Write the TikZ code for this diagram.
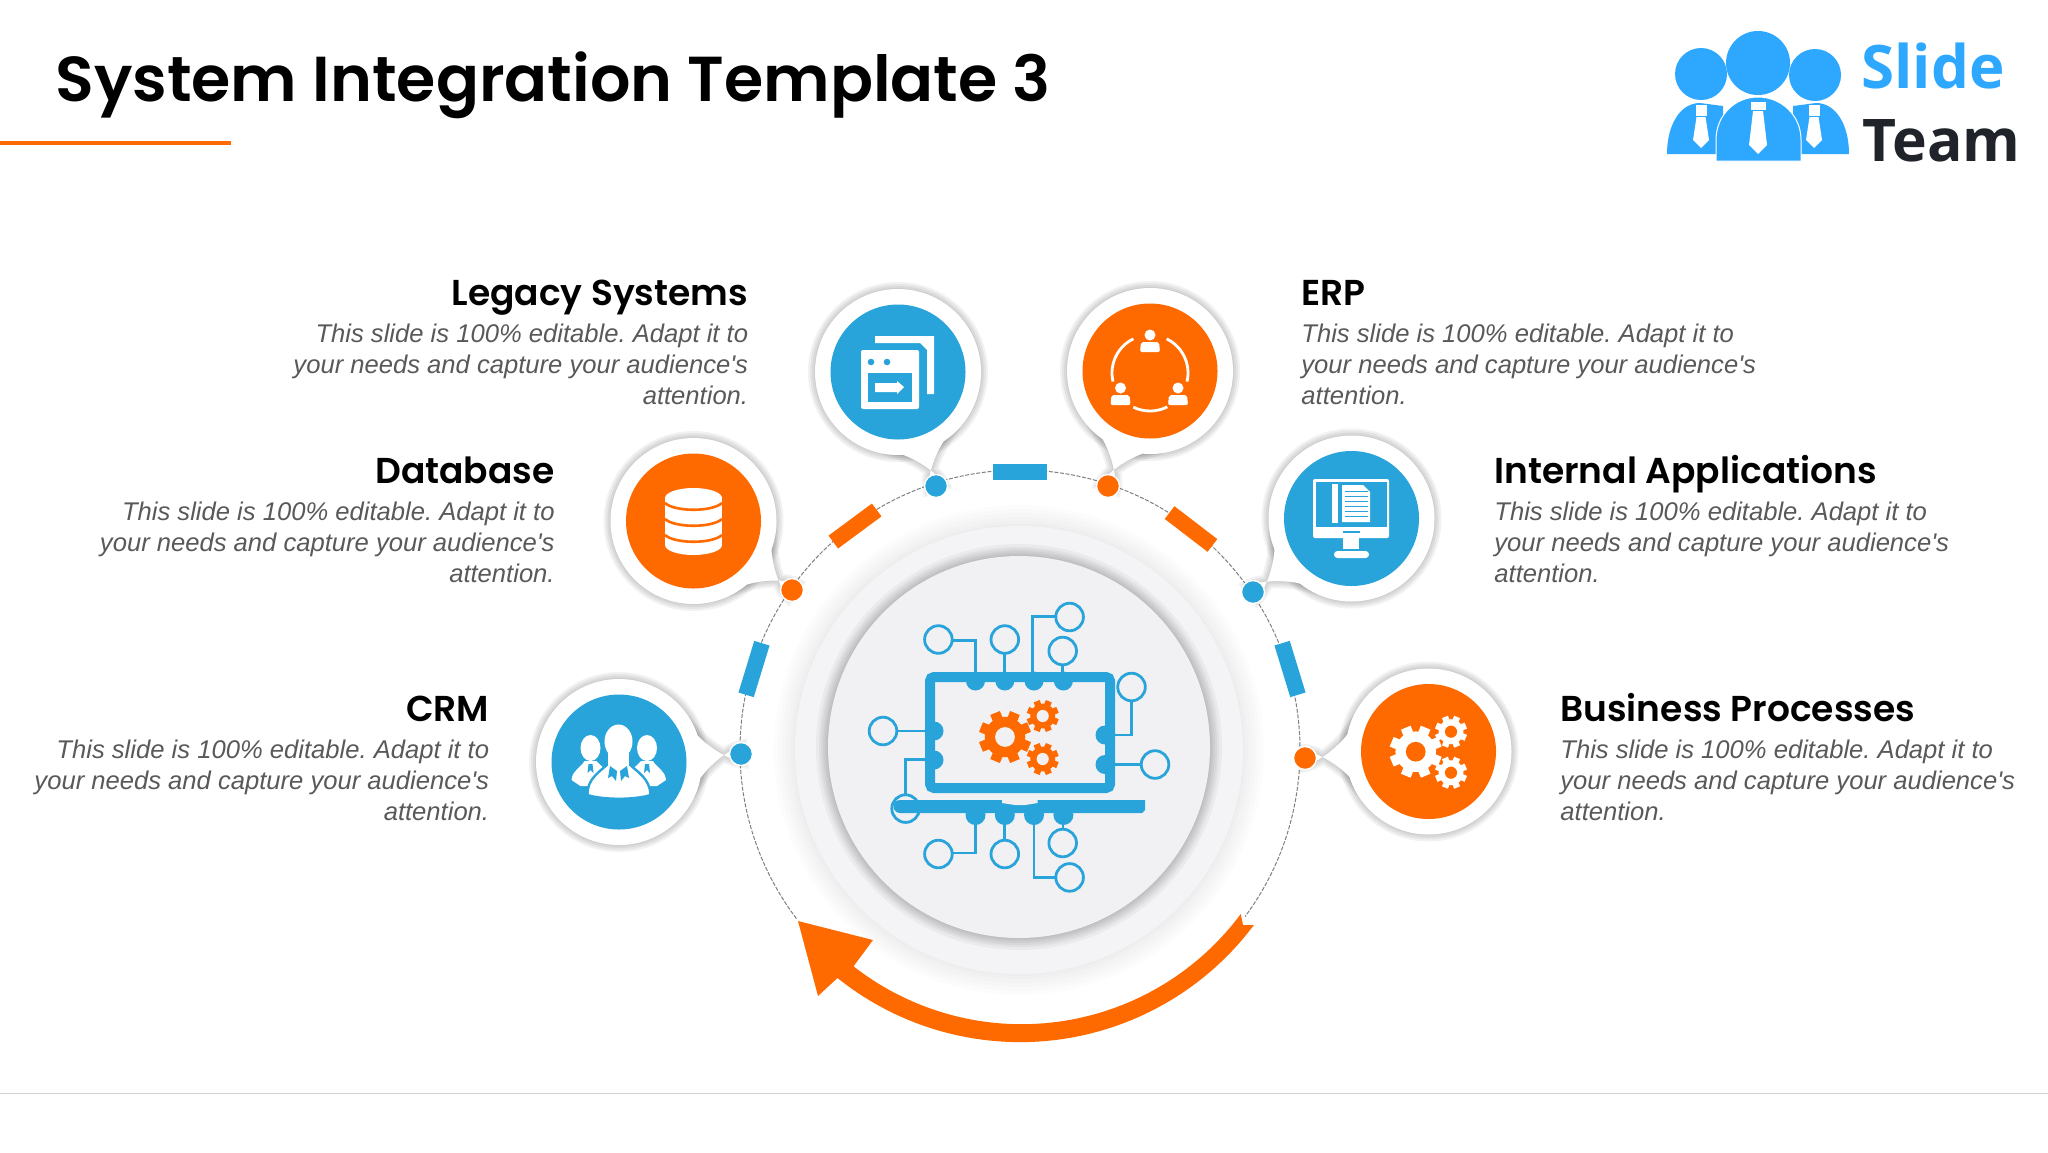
\documentclass[tikz,border=0pt]{standalone}
\usepackage{fontspec}
\usepackage{xcolor}
\usetikzlibrary{calc,positioning}
\setmainfont{Liberation Sans}
\newfontfamily\headfont{Poppins SemiBold}
\newfontfamily\logofont{Open Sans}
\definecolor{blueicon}{HTML}{29A4DA}
\definecolor{orangeicon}{HTML}{FF6A00}
\definecolor{discgray}{HTML}{F1F1F3}
\definecolor{ringgray}{HTML}{F4F4F6}
\definecolor{bodygray}{HTML}{595959}
\definecolor{logoblue}{HTML}{2EA8FF}
\definecolor{logodark}{HTML}{20242A}
\newcommand{\bubblepath}[2]{($(#1)!41.5pt!15:(#2)$) .. controls ($(#1)!44.5pt!7:(#2)$) and ($(#2)!7pt!24:(#1)$) .. ($(#2)!3.5pt!90:(#1)$) -- ($(#2)!3.5pt!-90:(#1)$) .. controls ($(#2)!7pt!-24:(#1)$) and ($(#1)!44.5pt!-7:(#2)$) .. ($(#1)!41.5pt!-15:(#2)$) -- cycle}
\newcommand{\gearicon}[5]{%
        \foreach \a in {0,45,...,315} \draw[#4, line width=#3*0.2pt] (#1,#2) -- ++(\a+22.5:#3);
        \fill[#4] (#1,#2) circle (#3*0.78);
        \fill[#5] (#1,#2) circle (#3*0.38);
}
\newcommand{\blurb}{This slide is 100\% editable. Adapt it to\\your needs and capture your audience\textquotesingle s\\attention.}
\tikzset{
        badge/.style={circle, minimum size=67.5pt, inner sep=0pt},
        pindot/.style={circle, minimum size=11.5pt, inner sep=0pt, draw=white, line width=0.7pt},
        ringbar/.style={rectangle, minimum width=27pt, minimum height=8pt, inner sep=0pt},
        headlabel/.style={inner sep=0pt, text depth=3pt, font=\headfont\fontsize{18}{22}\selectfont},
        bodylabel/.style={inner sep=0pt, text=bodygray, font=\itshape\fontsize{12.8}{15.5}\selectfont\frenchspacing},
        chipline/.style={blueicon, line width=1.4pt},
        chipdot/.style={blueicon, line width=1.4pt, fill=discgray},
        softline/.style={black, opacity=0.05},
}
\begin{document}
\begin{tikzpicture}[x=0.5pt, y=-0.5pt]
        \useasboundingbox (0,0) rectangle (2048,1152);
        \fill[white] (0,0) rectangle (2048,1152);
        \coordinate (hub) at (1020,750);
        \coordinate (disc) at (1019,747);
        \coordinate (legacyc) at (898,372);
        \coordinate (legacyp) at (936,486);
        \coordinate (erpc) at (1150,371);
        \coordinate (erpp) at (1108,486);
        \coordinate (databasec) at (693.5,521);
        \coordinate (databasep) at (792,590);
        \coordinate (internalc) at (1351.5,518.5);
        \coordinate (internalp) at (1253,592);
        \coordinate (crmc) at (619,762);
        \coordinate (crmp) at (741,754);
        \coordinate (businessc) at (1428.5,751.5);
        \coordinate (businessp) at (1305,758);
        \node[anchor=base west, inner sep=0pt, font=\headfont\fontsize{31.75}{38}\selectfont] (title) at (55,101) {System Integration Template 3};
        \draw[orangeicon, line width=2pt] (0,143) -- (231,143);
        \draw[gray!35, line width=0.5pt] (0,1093) -- (2048,1093);
        \draw[gray, line width=0.5pt, dashed, dash pattern=on 2pt off 0.8pt] (hub) ++(143:280) arc (143:396.5:280);
        \foreach \w in {21,17,13,9,5,2} \draw[softline, opacity=0.012, line width=\w pt] (1019,750) circle (224);
        \fill[ringgray] (1019,750) circle (224);
        \foreach \w in {12,9,7,5,3,1} \draw[softline, line width=\w pt, opacity=0.04] (disc) circle (191);
        \fill[discgray] (disc) circle (191);
        \fill[orangeicon] (hub) ++(36.6:275) arc (36.6:128:273) -- (873,940) -- (798,921) -- (818,996) -- (837.5,978) arc (128.7:36.8:292) -- (1243,925) -- cycle;
        \foreach \name in {legacy,erp,database,internal,crm,business} {
                \foreach \w in {7,5,3,1} {
                        \draw[softline, line width=\w pt, yshift=-0.4pt] (\name c) circle (83);
                        \draw[softline, line width=\w pt, yshift=-0.4pt] \bubblepath{\name c}{\name p};
                }
                \fill[white] (\name c) circle (83);
                \fill[white] \bubblepath{\name c}{\name p};
        }
        \node[badge, fill=blueicon] (legacybadge) at (legacyc) {};
        \node[badge, fill=orangeicon] (erpbadge) at (erpc) {};
        \node[badge, fill=orangeicon] (databasebadge) at (databasec) {};
        \node[badge, fill=blueicon] (internalbadge) at (internalc) {};
        \node[badge, fill=blueicon] (crmbadge) at (crmc) {};
        \node[badge, fill=orangeicon] (businessbadge) at (businessc) {};
        \node[pindot, fill=blueicon] (legacypin) at (legacyp) {};
        \node[pindot, fill=orangeicon] (erppin) at (erpp) {};
        \node[pindot, fill=orangeicon] (databasepin) at (databasep) {};
        \node[pindot, fill=blueicon] (internalpin) at (internalp) {};
        \node[pindot, fill=blueicon] (crmpin) at (crmp) {};
        \node[pindot, fill=orangeicon] (businesspin) at (businessp) {};
        \node[ringbar, fill=blueicon] (topbar) at (1020,472) {};
        \node[ringbar, fill=orangeicon, rotate=36.5] (leftbar) at (855,526) {};
        \node[ringbar, fill=orangeicon, rotate=-37.5] (rightbar) at (1191,529) {};
        \node[ringbar, fill=blueicon, rotate=73] (lowleftbar) at (754,669) {};
        \node[ringbar, fill=blueicon, rotate=-73] (lowrightbar) at (1290,669) {};

        \node[headlabel, anchor=base east] (legacyhead) at (748.5,305) {Legacy Systems};
        \node[bodylabel, align=right, below left=6pt and 0pt of legacyhead.south east] (legacytext) {\blurb};
        \node[headlabel, anchor=base east] (databasehead) at (555,483) {Database};
        \node[bodylabel, align=right, below left=6pt and 0pt of databasehead.south east] (databasetext) {\blurb};
        \node[headlabel, anchor=base east] (crmhead) at (489.5,721) {CRM};
        \node[bodylabel, align=right, below left=6pt and 0pt of crmhead.south east] (crmtext) {\blurb};
        \node[headlabel, anchor=base west] (erphead) at (1301,305) {ERP};
        \node[bodylabel, align=left, below right=6pt and 0pt of erphead.south west] (erptext) {\blurb};
        \node[headlabel, anchor=base west] (internalhead) at (1494,483) {Internal Applications};
        \node[bodylabel, align=left, below right=6pt and 0pt of internalhead.south west] (internaltext) {\blurb};
        \node[headlabel, anchor=base west] (businesshead) at (1560,721) {Business Processes};
        \node[bodylabel, align=left, below right=6pt and 0pt of businesshead.south west] (businesstext) {\blurb};

        \fill[white] (875,336) -- (934,336) -- (934,394) -- (927,394) -- (927,350) -- (920,343) -- (875,343) -- cycle;
        \fill[white, rounded corners=1pt] (861,350) rectangle (919,409);
        \fill[blueicon] (868,373) rectangle (912,402);
        \fill[blueicon] (871,362) circle (3.3) (887,362) circle (3.3);
        \fill[white] (875,383) -- (897,383) -- (897,381) -- (904,387) -- (897,394) -- (897,392) -- (875,392) -- cycle;

        \draw[white, line width=1.4pt] (1150,373) ++(-193:38) arc (-193:-116:38);
        \draw[white, line width=1.4pt] (1150,373) ++(-64:38) arc (-64:13:38);
        \draw[white, line width=1.4pt] (1150,373) ++(63:38) arc (63:116:38);
        \foreach \x/\y in {1150/335,1120.5/388,1178/388} {
                \fill[white] (\x,\y) circle (5.5);
                \fill[white, rounded corners=1pt] (\x-10,\y+17) -- (\x-9,\y+7) -- (\x+9,\y+7) -- (\x+10,\y+17) -- cycle;
        }

        \fill[white] (665,498) rectangle (722,545);
        \fill[white] (693.5,498) ellipse (28.5 and 10);
        \fill[white] (693.5,545) ellipse (28.5 and 10);
        \foreach \y in {503,519,535} \draw[orangeicon, line width=1.3pt] (665,\y) .. controls (675,\y+9) and (712,\y+9) .. (722,\y);

        \foreach \x/\s in {590.5/1,647/-1} {
                \fill[white] (\x,748) ellipse (10 and 13);
                \fill[white] (\x-19*\s,780) .. controls (\x-18*\s,770) and (\x-10*\s,768) .. (\x-6*\s,761) -- (\x+6*\s,761) .. controls (\x+10*\s,766) and (\x+18*\s,770) .. (\x+20*\s,780) -- (\x+10*\s,786) -- (\x-10*\s,786) -- cycle;
                \fill[blueicon] (\x-2,764) -- (\x+2,764) -- (\x+3,773) -- (\x,770) -- (\x-3,773) -- cycle;
        }
        \fill[white, draw=blueicon, line width=1.2pt] (587.5,795) .. controls (587,778) and (600,772) .. (610,762) -- (627,762) .. controls (637,772) and (650,778) .. (650.5,795) .. controls (635,800) and (603,800) .. (587.5,795) -- cycle;
        \fill[white] (618.5,741.5) ellipse (14 and 17);
        \fill[white] (608,752) rectangle (629,768);
        \fill[blueicon] (610,766) -- (617,771) -- (616,781) -- (612,776) -- (608,778) -- cycle;
        \fill[blueicon] (627,766) -- (620,771) -- (621,781) -- (625,776) -- (629,778) -- cycle;

        \fill[white, rounded corners=1pt] (1313,479) rectangle (1389,538);
        \fill[blueicon] (1316,482) rectangle (1387,527);
        \fill[white] (1332,484) rectangle (1338,523);
        \fill[white] (1342,485) -- (1363,485) -- (1370,492) -- (1370,522) -- (1342,522) -- cycle;
        \foreach \y in {491,496,501,506,511,516} \draw[blueicon, line width=0.5pt] (1345,\y) -- (1368,\y);
        \draw[blueicon, line width=0.8pt] (1343,532) -- (1360,532);
        \fill[white] (1343,538) rectangle (1359,549);
        \fill[white, rounded corners=1.7pt] (1334,551) rectangle (1369,558);

        \gearicon{1415.7}{751.7}{26}{white}{orangeicon}
        \gearicon{1451}{731.7}{16}{white}{orangeicon}
        \gearicon{1451}{772.7}{16}{white}{orangeicon}

        \foreach \x/\y in {938.4/639.5,1004.8/639.5,1069.6/617,1062.7/651,883/731,1131.5/687,1155/764.5,938.4/854,1004.8/854,1062.7/843,1069.6/877.4}
                \draw[chipdot] (\x,\y) circle (13.8);
        \draw[chipline] (952,640.5) -- (975.5,640.5) -- (975.5,675);
        \draw[chipline] (1004.8,653) -- (1004.8,675);
        \draw[chipline] (1056,616.5) -- (1032.5,616.5) -- (1032.5,675);
        \draw[chipline] (1062.7,665) -- (1062.7,675);
        \draw[chipline] (897,731) -- (930,731);
        \draw[chipline] (905.6,795) -- (905.6,759.5) -- (930,759.5);
        \draw[chipline] (1131.5,701) -- (1131.5,735) -- (1110,735);
        \draw[chipline] (1141,764.5) -- (1110,764.5);
        \draw[chipline] (975.5,815) -- (975.5,853) -- (952,853);
        \draw[chipline] (1004.8,815) -- (1004.8,840);
        \draw[chipline] (1034,815) -- (1034,877.4) -- (1056,877.4);
        \draw[chipline] (1063,815) -- (1063,829);
        \draw[blueicon, line width=5pt, rounded corners=2pt] (930,677) rectangle (1110,788);
        \foreach \x in {975.5,1004.8,1034,1063.4} {
                \fill[blueicon] (\x,681) circle (9.5);
                \fill[blueicon] (\x,815) circle (10);
        }
        \foreach \x/\y in {934/731,934/760,1105/735,1105/764.5} \fill[blueicon] (\x,\y) circle (9.5);
        \fill[blueicon] (900,800) -- (1145,800) -- (1145,810) -- (1142,813) -- (900,813) arc (90:270:6.5) -- cycle;
        \draw[chipline] (905.6,808.6) circle (13.8);
        \fill[discgray] (1002,800) -- (1037.5,800) -- (1037.5,803) -- (1025,805) -- (1015,805) -- (1002,803) -- cycle;
        \gearicon{1005}{737}{26}{orangeicon}{discgray}
        \gearicon{1042.7}{716}{16}{orangeicon}{discgray}
        \gearicon{1042.7}{759}{16}{orangeicon}{discgray}

        \fill[logoblue] (1701,74) circle (26) (1815,75) circle (26);
        \fill[logoblue] (1667,154) .. controls (1667,125) and (1680,103) .. (1700,103) -- (1723,106) -- (1723,154) -- cycle;
        \fill[logoblue] (1849,154) .. controls (1849,125) and (1836,103) .. (1816,103) -- (1793,106) -- (1793,154) -- cycle;
        \fill[logoblue] (1758,63) circle (32);
        \fill[logoblue, draw=white, line width=0.5pt] (1716,161) -- (1716,140) .. controls (1716,115) and (1735,97) .. (1758,97) .. controls (1781,97) and (1801,115) .. (1801,140) -- (1801,161) -- cycle;
        \fill[white] (1751,102) rectangle (1766,110);
        \fill[white] (1753,111) -- (1763,111) -- (1767,145) -- (1758,154) -- (1749,145) -- cycle;
        \foreach \x in {1701,1814} {
                \fill[white] (\x-5.5,105) rectangle (\x+5.5,116);
                \fill[white] (\x-4.5,117) -- (\x+4.5,117) -- (\x+8,140) -- (\x,148) -- (\x-8,140) -- cycle;
        }
        \node[anchor=base west, inner sep=0pt, text=logoblue, font=\logofont\bfseries\fontsize{30}{36}\selectfont] (slideword) at (1861,88) {Slide};
        \node[anchor=base west, inner sep=0pt, text=logodark, font=\logofont\bfseries\fontsize{29.4}{36}\selectfont] (teamword) at (1862,161) {Team};
\end{tikzpicture}
\end{document}
